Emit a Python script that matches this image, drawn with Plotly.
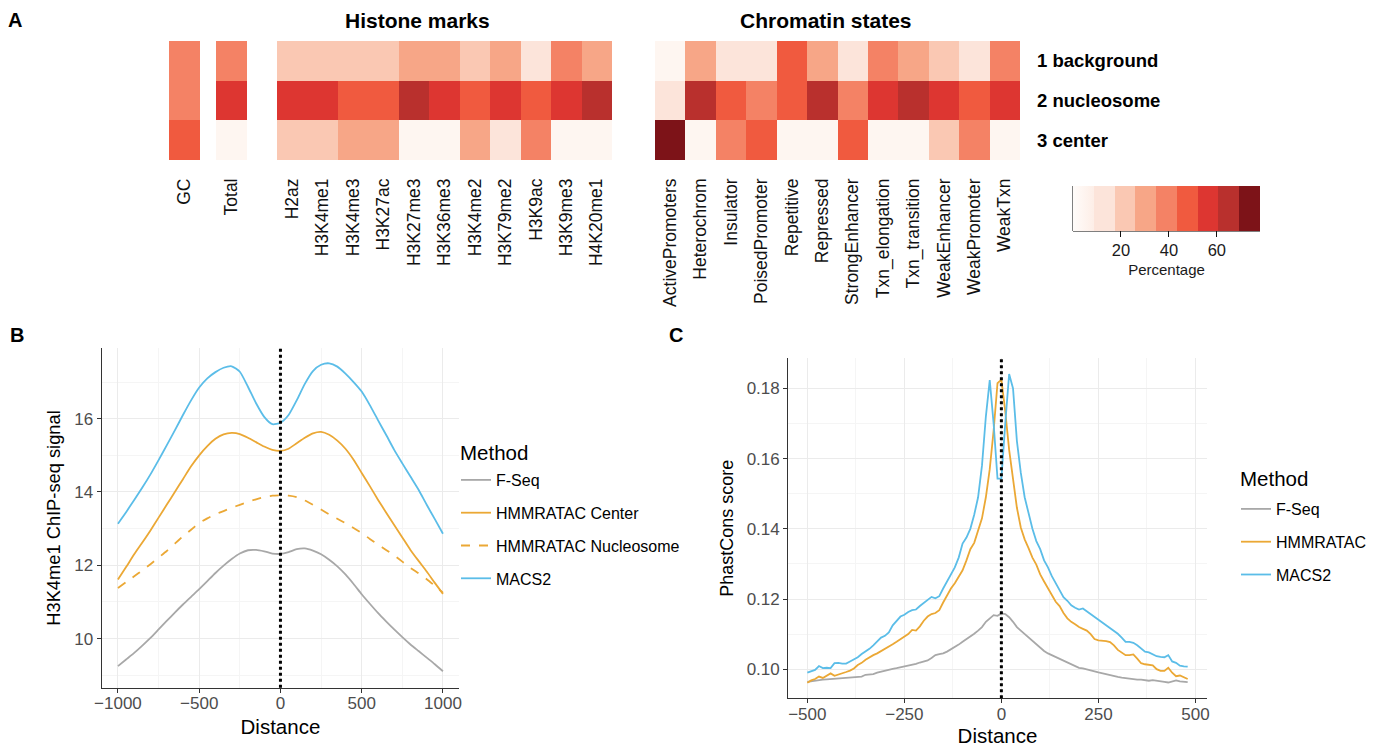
import plotly.graph_objects as go

# ---------------- DATA ----------------
ROWS = ["1 background", "2 nucleosome", "3 center"]

GC_LABEL = ["GC"]
GC_VALUES = [39, 39, 47]

TOTAL_LABEL = ["Total"]
TOTAL_VALUES = [39, 56, 4]

HISTONE_MARKS = ["H2az", "H3K4me1", "H3K4me3", "H3K27ac", "H3K27me3", "H3K36me3",
                 "H3K4me2", "H3K79me2", "H3K9ac", "H3K9me3", "H4K20me1"]
HISTONE_BACKGROUND = [22, 22, 22, 22, 30, 30, 22, 30, 15, 39, 30]
HISTONE_NUCLEOSOME = [56, 56, 47, 47, 65, 56, 47, 56, 47, 56, 65]
HISTONE_CENTER = [22, 22, 30, 30, 4, 4, 30, 15, 39, 4, 4]

CHROMATIN_STATES = ["ActivePromoters", "Heterochrom", "Insulator", "PoisedPromoter",
                    "Repetitive", "Repressed", "StrongEnhancer", "Txn_elongation",
                    "Txn_transition", "WeakEnhancer", "WeakPromoter", "WeakTxn"]
CHROMATIN_BACKGROUND = [4, 30, 15, 15, 47, 30, 15, 39, 30, 22, 15, 39]
CHROMATIN_NUCLEOSOME = [15, 65, 47, 39, 47, 65, 39, 56, 65, 56, 47, 56]
CHROMATIN_CENTER = [74, 4, 39, 47, 4, 4, 47, 4, 4, 22, 39, 4]

PCT_MIN, PCT_MAX = 0, 78
PCT_TICKS = [20, 40, 60]

# Panel B: H3K4me1 ChIP-seq signal
B_DISTANCE = list(range(-1000, 1001, 50))
B_FSEQ = [9.25, 9.43, 9.61, 9.81, 10.02, 10.25, 10.48, 10.71, 10.93, 11.14, 11.35,
          11.57, 11.79, 11.99, 12.17, 12.32, 12.41, 12.42, 12.38, 12.32, 12.31,
          12.36, 12.44, 12.46, 12.40, 12.30, 12.15, 11.97, 11.75, 11.49, 11.21,
          10.95, 10.70, 10.47, 10.25, 10.04, 9.84, 9.66, 9.48, 9.30, 9.11]
B_HMM_CENTER = [11.61, 11.95, 12.30, 12.62, 12.95, 13.30, 13.65, 14.00, 14.35, 14.70, 15.00,
                15.25, 15.45, 15.57, 15.61, 15.58, 15.48, 15.36, 15.24, 15.15, 15.12,
                15.18, 15.33, 15.48, 15.60, 15.64, 15.56, 15.40, 15.18, 14.88, 14.52,
                14.16, 13.79, 13.44, 13.10, 12.76, 12.42, 12.12, 11.83, 11.52, 11.22]
B_HMM_NUCLEOSOME = [11.38, 11.54, 11.70, 11.86, 12.03, 12.21, 12.39, 12.59, 12.79, 12.97, 13.15,
                    13.28, 13.39, 13.48, 13.57, 13.65, 13.73, 13.80, 13.86, 13.90, 13.91,
                    13.90, 13.86, 13.77, 13.65, 13.52, 13.39, 13.27, 13.15, 13.02, 12.88,
                    12.72, 12.57, 12.42, 12.27, 12.10, 11.93, 11.78, 11.62, 11.44, 11.25]
B_MACS2 = [13.13, 13.45, 13.78, 14.12, 14.48, 14.87, 15.27, 15.68, 16.10, 16.50, 16.85,
           17.10, 17.27, 17.39, 17.43, 17.28, 16.87, 16.42, 16.05, 15.85, 15.89,
           16.10, 16.50, 16.95, 17.30, 17.47, 17.51, 17.42, 17.23, 17.00, 16.74,
           16.37, 15.96, 15.56, 15.15, 14.78, 14.42, 14.06, 13.65, 13.26, 12.86]

# Panel C: PhastCons score
C_DISTANCE = list(range(-500, 481, 10))
C_FSEQ = [0.0964, 0.0966, 0.0968, 0.0969, 0.0970, 0.0971, 0.0972, 0.0973, 0.0973, 0.0973,
          0.0974, 0.0975, 0.0976, 0.0978, 0.0979, 0.0984, 0.0985, 0.0986, 0.0990, 0.0993,
          0.0997, 0.1000, 0.1001, 0.1003, 0.1005, 0.1008, 0.1009, 0.1011, 0.1015, 0.1019,
          0.1022, 0.1025, 0.1032, 0.1040, 0.1043, 0.1045, 0.1050, 0.1056, 0.1062, 0.1070,
          0.1078, 0.1085, 0.1092, 0.1101, 0.1110, 0.1120, 0.1135, 0.1145, 0.1154, 0.1152,
          0.1159, 0.1157, 0.1148, 0.1135, 0.1120, 0.1110, 0.1100, 0.1090, 0.1080, 0.1070,
          0.1060, 0.1052, 0.1045, 0.1040, 0.1035, 0.1029, 0.1025, 0.1020, 0.1015, 0.1010,
          0.1004, 0.1002, 0.1000, 0.0998, 0.0994, 0.0991, 0.0988, 0.0986, 0.0983, 0.0981,
          0.0978, 0.0976, 0.0974, 0.0972, 0.0971, 0.0970, 0.0970, 0.0969, 0.0967, 0.0969,
          0.0968, 0.0966, 0.0964, 0.0962, 0.0966, 0.0968, 0.0965, 0.0963, 0.0963]
C_HMMRATAC = [0.0961, 0.0968, 0.0972, 0.0979, 0.0975, 0.0982, 0.0988, 0.0981, 0.0984, 0.0987,
              0.0992, 0.0996, 0.1002, 0.1012, 0.1018, 0.1027, 0.1034, 0.1040, 0.1045, 0.1051,
              0.1058, 0.1064, 0.1071, 0.1078, 0.1085, 0.1092, 0.1100, 0.1112, 0.1110, 0.1122,
              0.1138, 0.1150, 0.1157, 0.1160, 0.1168, 0.1190, 0.1212, 0.1230, 0.1245, 0.1265,
              0.1282, 0.1310, 0.1342, 0.1360, 0.1398, 0.1430, 0.1490, 0.1570, 0.1680, 0.1815,
              0.1825, 0.1735, 0.1625, 0.1540, 0.1460, 0.1404, 0.1370, 0.1345, 0.1318, 0.1298,
              0.1270, 0.1250, 0.1230, 0.1212, 0.1192, 0.1180, 0.1160, 0.1145, 0.1135, 0.1128,
              0.1120, 0.1115, 0.1110, 0.1100, 0.1086, 0.1082, 0.1082, 0.1080, 0.1077, 0.1068,
              0.1055, 0.1047, 0.1040, 0.1040, 0.1042, 0.1030, 0.1017, 0.1014, 0.1013, 0.1011,
              0.1000, 0.0995, 0.0995, 0.1004, 0.0990, 0.0980, 0.0982, 0.0978, 0.0972]
C_MACS2 = [0.0990, 0.0994, 0.0998, 0.1009, 0.1003, 0.1004, 0.1003, 0.1017, 0.1018, 0.1016,
           0.1016, 0.1022, 0.1028, 0.1034, 0.1043, 0.1050, 0.1058, 0.1068, 0.1080, 0.1090,
           0.1095, 0.1105, 0.1125, 0.1136, 0.1150, 0.1155, 0.1163, 0.1168, 0.1170, 0.1180,
           0.1188, 0.1196, 0.1206, 0.1202, 0.1208, 0.1230, 0.1250, 0.1272, 0.1290, 0.1318,
           0.1358, 0.1375, 0.1400, 0.1440, 0.1490, 0.1580, 0.1720, 0.1824, 0.1700, 0.1543,
           0.1543, 0.1700, 0.1841, 0.1800, 0.1650, 0.1560, 0.1490, 0.1445, 0.1400, 0.1365,
           0.1342, 0.1310, 0.1290, 0.1265, 0.1245, 0.1225, 0.1205, 0.1195, 0.1182, 0.1175,
           0.1170, 0.1173, 0.1165, 0.1158, 0.1150, 0.1142, 0.1135, 0.1126, 0.1117, 0.1110,
           0.1101, 0.1090, 0.1078, 0.1078, 0.1075, 0.1068, 0.1060, 0.1050, 0.1048, 0.1043,
           0.1037, 0.1035, 0.1034, 0.1040, 0.1022, 0.1018, 0.1010, 0.1008, 0.1007]

# ---------------- STYLE ----------------
W, H = 1378, 747
FONT = "Liberation Sans, Arial, Helvetica, sans-serif"
REDS = ['#FEF6F3', '#FCE4DA', '#FAC8B3', '#F7A687', '#F48265',
        '#F05A3F', '#DD3631', '#B9302D', '#7D1318']
COL_FSEQ = "#A8A8A8"
COL_HMM = "#EBA835"
COL_MACS = "#5BBDE8"
AXIS_COL = "#333333"
TICK_COL = "#4D4D4D"
GRID = "#EBEBEB"
GRID_MINOR = "#F5F5F5"


def fx(p):
    return p / W


def fy(p):
    return 1 - p / H


n = len(REDS)
# first bin is a soft gradient (as in the reference guide), the rest are steps
colorscale = [[0, "#FFFCFA"], [1 / n, "#FDEEE7"], [1 / n, REDS[1]], [2 / n, REDS[1]]]
for i in range(2, n):
    colorscale.append([i / n, REDS[i]])
    colorscale.append([(i + 1) / n, REDS[i]])

fig = go.Figure()

# ---------------- Panel A heatmaps ----------------
fig.add_trace(go.Heatmap(z=[[v] for v in GC_VALUES], x=GC_LABEL, y=ROWS,
                         coloraxis="coloraxis", xaxis="x", yaxis="y", hoverinfo="skip"))
fig.add_trace(go.Heatmap(z=[[v] for v in TOTAL_VALUES], x=TOTAL_LABEL, y=ROWS,
                         coloraxis="coloraxis", xaxis="x2", yaxis="y", hoverinfo="skip"))
fig.add_trace(go.Heatmap(z=[HISTONE_BACKGROUND, HISTONE_NUCLEOSOME, HISTONE_CENTER],
                         x=HISTONE_MARKS, y=ROWS,
                         coloraxis="coloraxis", xaxis="x3", yaxis="y", hoverinfo="skip"))
fig.add_trace(go.Heatmap(z=[CHROMATIN_BACKGROUND, CHROMATIN_NUCLEOSOME, CHROMATIN_CENTER],
                         x=CHROMATIN_STATES, y=ROWS,
                         coloraxis="coloraxis", xaxis="x4", yaxis="y", hoverinfo="skip"))

# ---------------- Panel B lines ----------------
b_series = [
    ("F-Seq", B_FSEQ, COL_FSEQ, "solid"),
    ("HMMRATAC Center", B_HMM_CENTER, COL_HMM, "solid"),
    ("HMMRATAC Nucleosome", B_HMM_NUCLEOSOME, COL_HMM, "dash"),
    ("MACS2", B_MACS2, COL_MACS, "solid"),
]
for name, ys, col, dash in b_series:
    fig.add_trace(go.Scatter(x=B_DISTANCE, y=ys, mode="lines", name=name,
                             line=dict(color=col, width=1.8, dash=dash, shape="spline", smoothing=0.6),
                             xaxis="x5", yaxis="y2", legend="legend", legendgroup="B" + name))

# ---------------- Panel C lines ----------------
c_series = [
    ("F-Seq", C_FSEQ, COL_FSEQ),
    ("HMMRATAC", C_HMMRATAC, COL_HMM),
    ("MACS2", C_MACS2, COL_MACS),
]
for name, ys, col in c_series:
    fig.add_trace(go.Scatter(x=C_DISTANCE, y=ys, mode="lines", name=name,
                             line=dict(color=col, width=1.8),
                             xaxis="x6", yaxis="y3", legend="legend2", legendgroup="C" + name))

# vertical dotted lines at distance 0
for xr, yr in (("x5", "y2"), ("x6", "y3")):
    fig.add_shape(type="line", xref=xr, yref=yr + " domain", x0=0, x1=0, y0=0, y1=1,
                  line=dict(color="black", width=3, dash="dot"), layer="above")

heat_x_common = dict(anchor="y", showgrid=False, zeroline=False, showline=False, ticks="",
                     tickangle=-90, tickfont=dict(size=17.5, color="#111111"),
                     ticklabelstandoff=14, fixedrange=True)

axis_common = dict(showgrid=True, gridcolor=GRID, gridwidth=1, zeroline=False,
                   showline=True, linecolor=AXIS_COL, linewidth=1.3,
                   ticks="outside", ticklen=4, tickcolor=AXIS_COL, tickwidth=1,
                   tickfont=dict(size=17, color=TICK_COL), automargin=False)

fig.update_layout(
    width=W, height=H,
    margin=dict(l=0, r=0, t=0, b=0),
    paper_bgcolor="white", plot_bgcolor="white",
    font=dict(family=FONT, color="black"),
    showlegend=True,
    coloraxis=dict(
        colorscale=colorscale, cmin=PCT_MIN, cmax=PCT_MAX,
        colorbar=dict(
            orientation="h", x=fx(1166.5), xanchor="center", y=fy(186), yanchor="top",
            thickness=45, len=187, lenmode="pixels", outlinewidth=0,
            xpad=0, ypad=0,
            ticks="outside", ticklen=6, tickcolor="#111111", tickwidth=1,
            tickvals=PCT_TICKS, tickfont=dict(size=16.5, color="#1A1A1A"),
            title=dict(text="Percentage", side="bottom", font=dict(size=15, color="#1A1A1A")),
        ),
    ),
    xaxis=dict(domain=[fx(169), fx(200)], **heat_x_common),
    xaxis2=dict(domain=[fx(216), fx(247)], **heat_x_common),
    xaxis3=dict(domain=[fx(277), fx(612)], **heat_x_common),
    xaxis4=dict(domain=[fx(655), fx(1020)], **heat_x_common),
    yaxis=dict(domain=[fy(160), fy(41)], anchor="x4", side="right", autorange="reversed",
               showgrid=False, zeroline=False, showline=False, ticks="",
               tickfont=dict(size=18.5, color="black", weight="bold"),
               ticklabelstandoff=16, fixedrange=True),
    xaxis5=dict(domain=[fx(101.7), fx(459.2)], anchor="y2", range=[-1100, 1100],
                tickvals=[-1000, -500, 0, 500, 1000], ticklabelstandoff=-4,
                minor=dict(tickvals=[-750, -250, 250, 750], showgrid=True, gridcolor=GRID_MINOR, ticks=""),
                title=dict(text="Distance", font=dict(size=20.5, color="black"), standoff=7),
                **axis_common),
    yaxis2=dict(domain=[fy(687.7), fy(348.3)], anchor="x5", range=[8.66, 17.92],
                tickvals=[10, 12, 14, 16],
                minor=dict(tickvals=[9, 11, 13, 15, 17], showgrid=True, gridcolor=GRID_MINOR, ticks=""),
                title=dict(text="H3K4me1 ChIP-seq signal", font=dict(size=18.3, color="black"), standoff=8),
                **axis_common),
    xaxis6=dict(domain=[fx(788.3), fx(1206.7)], anchor="y3", range=[-549, 529],
                tickvals=[-500, -250, 0, 250, 500], ticklabelstandoff=-4,
                minor=dict(tickvals=[-375, -125, 125, 375], showgrid=True, gridcolor=GRID_MINOR, ticks=""),
                title=dict(text="Distance", font=dict(size=20.5, color="black"), standoff=9),
                **axis_common),
    yaxis3=dict(domain=[fy(698.3), fy(358.3)], anchor="x6", range=[0.0917, 0.1886],
                tickvals=[0.10, 0.12, 0.14, 0.16, 0.18], tickformat=".2f",
                minor=dict(tickvals=[0.09, 0.11, 0.13, 0.15, 0.17], showgrid=True, gridcolor=GRID_MINOR, ticks=""),
                title=dict(text="PhastCons score", font=dict(size=18, color="black"), standoff=8),
                **axis_common),
    legend=dict(x=fx(456), y=fy(463), xanchor="left", yanchor="top",
                font=dict(size=16, color="black"), tracegroupgap=9, itemwidth=30,
                bgcolor="rgba(0,0,0,0)"),
    legend2=dict(x=fx(1236), y=fy(492), xanchor="left", yanchor="top",
                 font=dict(size=16, color="black"), tracegroupgap=9, itemwidth=30,
                 bgcolor="rgba(0,0,0,0)"),
)

# colorbar frame lines (left and bottom, as in the reference guide)
fig.add_shape(type="line", xref="paper", yref="paper", x0=fx(1073), x1=fx(1073),
              y0=fy(186), y1=fy(231), line=dict(color="black", width=1))
fig.add_shape(type="line", xref="paper", yref="paper", x0=fx(1073), x1=fx(1260),
              y0=fy(231), y1=fy(231), line=dict(color="black", width=1))

# titles, legend titles and panel letters
annos = [
    ("<b>Histone marks</b>", 417, 20, 21, "center"),
    ("<b>Chromatin states</b>", 826, 20, 21, "center"),
    ("<b>A</b>", 15, 20, 20, "center"),
    ("<b>B</b>", 17, 335, 20, "center"),
    ("<b>C</b>", 676, 335, 20, "center"),
    ("Method", 458, 452, 20.5, "left"),
    ("Method", 1238, 478, 20.5, "left"),
]
for text, px_, py_, size, anchor in annos:
    fig.add_annotation(text=text, x=fx(px_), y=fy(py_), xref="paper", yref="paper",
                       showarrow=False, xanchor=anchor, yanchor="middle",
                       font=dict(size=size, color="black"))

fig.write_html(
    "out.html",
    config={"displayModeBar": False},
    post_script="document.body.style.margin='0';document.body.style.overflow='hidden';"
                "document.documentElement.style.overflow='hidden';",
)
